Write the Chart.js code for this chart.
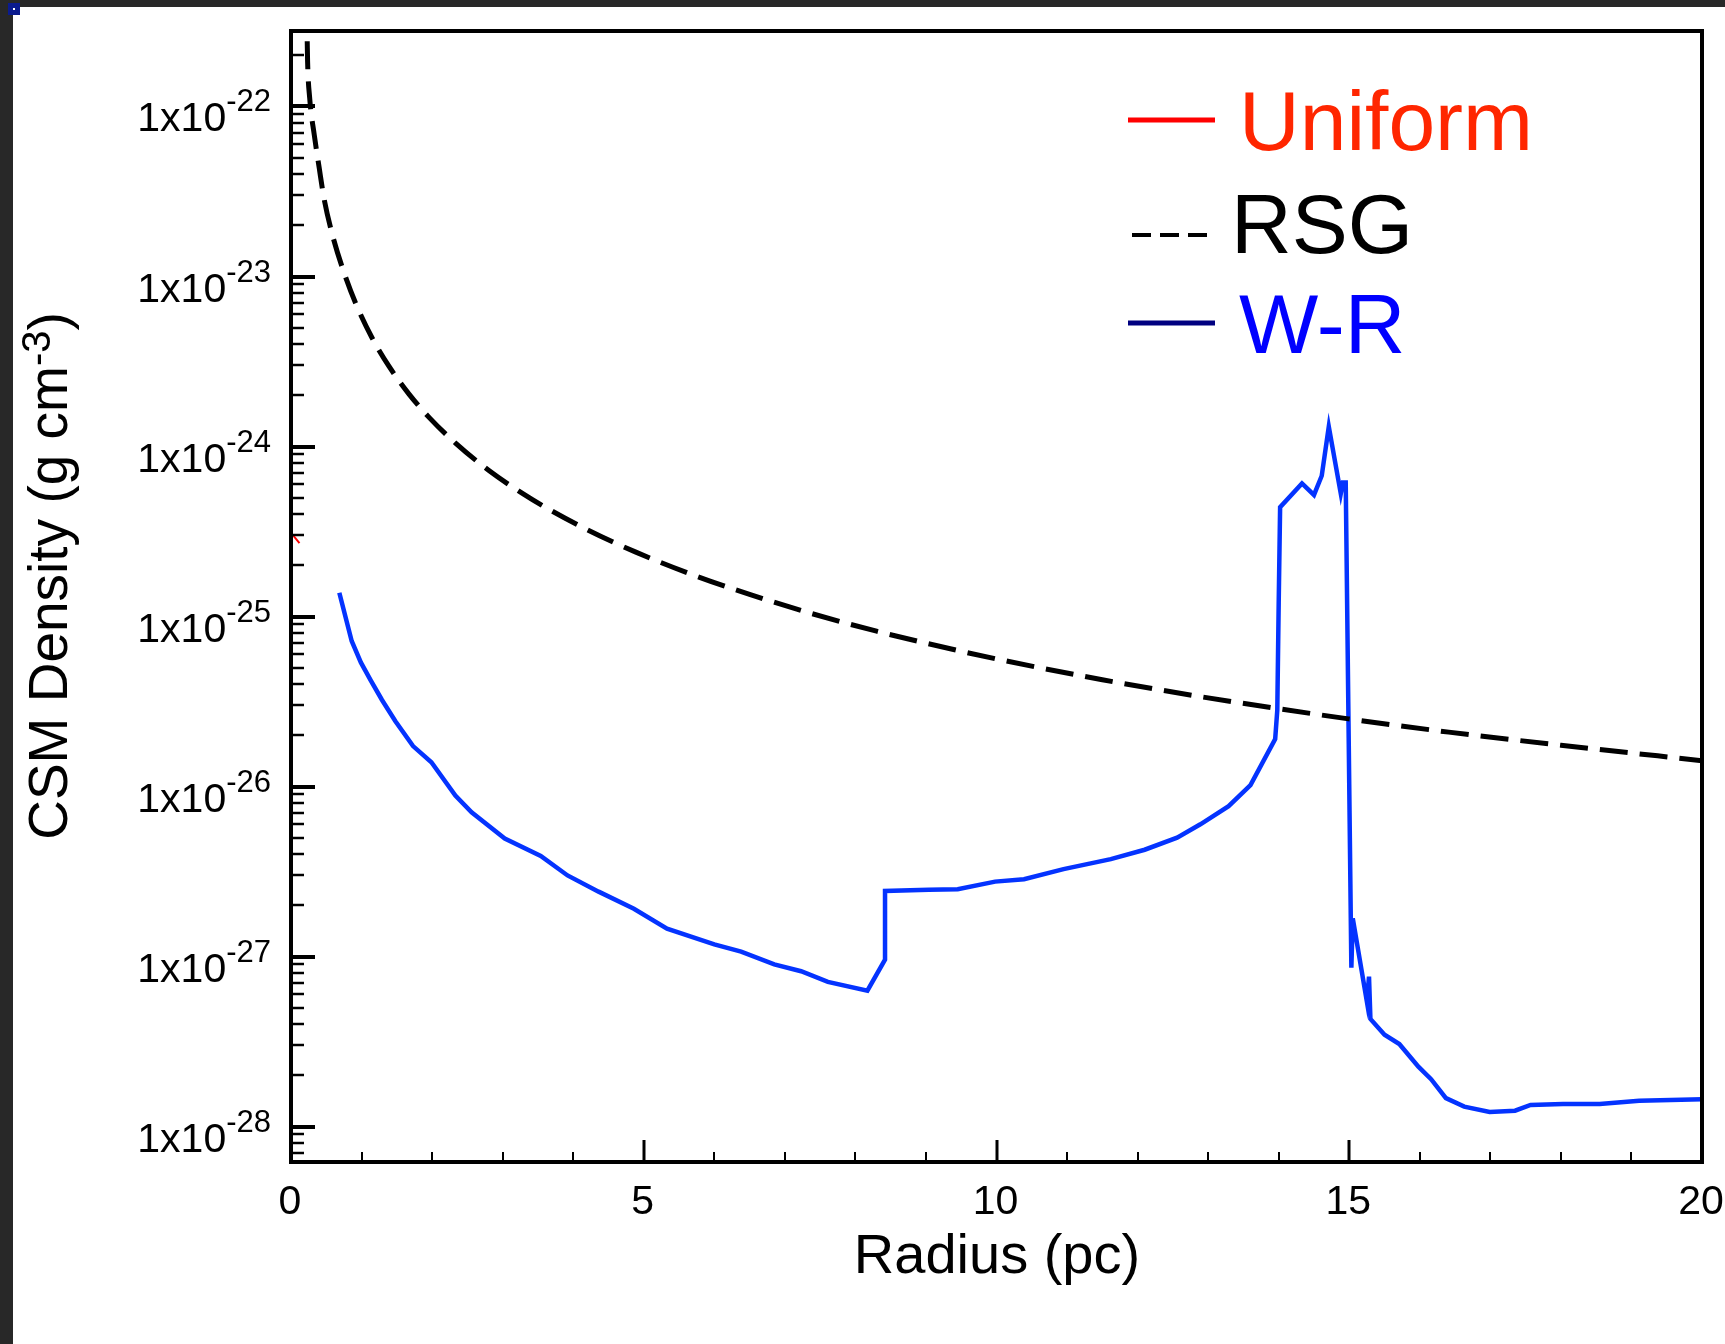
<!DOCTYPE html>
<html>
<head>
<meta charset="utf-8">
<script src="https://cdn.jsdelivr.net/npm/chart.js@4.4.1/dist/chart.umd.min.js"></script>
<style>
  html, body { margin: 0; padding: 0; background: #ffffff; }
  #wrap { position: relative; width: 1725px; height: 1344px; overflow: hidden; }
  canvas { display: block; }
  .strip-top { position: absolute; left: 0; top: 0; width: 1725px; height: 7px; background: #282828; }
  .strip-left { position: absolute; left: 0; top: 0; width: 13px; height: 1344px; background: #282828; }
  .corner { position: absolute; left: 8px; top: 3px; width: 12px; height: 12px; background: #0b1b8e; }
  .corner i { position: absolute; left: 5px; top: 5px; width: 2px; height: 2px; background: #ffffff; }
</style>
</head>
<body>
<div id="wrap">
  <canvas id="chart" width="1725" height="1344"></canvas>
  <div class="strip-top"></div>
  <div class="strip-left"></div>
  <div class="corner"><i></i></div>
</div>
<script>
// ---------------- DATA ----------------
const seriesNames = ['Uniform', 'RSG', 'W-R'];

const uniformRadius  = [0.03, 0.12];
const uniformDensity = [3.0e-25, 2.7e-25];

const rsgRadius  = [0.23, 0.235, 0.265, 0.33, 0.40, 0.47, 0.59, 0.73, 0.92, 1.15, 1.39, 1.67, 1.96, 2.34, 2.81, 3.28, 3.61, 4.2, 4.88, 5.76, 6.5, 7.35, 8.30, 9.36, 10.0, 11.5, 12.91, 14.0, 14.99, 16.41, 18.0, 20.0];
const rsgDensity = [2.42e-22, 1.85e-22, 1.12e-22, 6.8e-23, 4.35e-23, 2.85e-23, 1.74e-23, 1.12e-23, 6.9e-24, 4.35e-24, 2.96e-24, 2.04e-24, 1.48e-24, 1.04e-24, 7.2e-25, 5.3e-25, 4.38e-25, 3.24e-25, 2.4e-25, 1.72e-25, 1.35e-25, 1.05e-25, 8.2e-26, 6.44e-26, 5.63e-26, 4.25e-26, 3.37e-26, 2.87e-26, 2.5e-26, 2.09e-26, 1.75e-26, 1.42e-26];

const wrRadius  = [0.685, 0.86, 0.99, 1.13, 1.29, 1.48, 1.73, 1.99, 2.33, 2.56, 3.03, 3.54, 3.92, 4.36, 4.86, 5.33, 6.00, 6.38, 6.85, 7.23, 7.61, 8.17, 8.42, 8.42, 9.04, 9.45, 9.98, 10.39, 10.95, 11.62, 12.10, 12.56, 12.89, 13.29, 13.60, 13.95, 13.98, 14.00, 14.02, 14.33, 14.50, 14.61, 14.71, 14.88, 14.91, 14.95, 15.03, 15.05, 15.25, 15.28, 15.30, 15.50, 15.71, 15.98, 16.16, 16.37, 16.63, 16.99, 17.35, 17.57, 18.03, 18.55, 19.11, 20.0];
const wrDensity = [1.38e-25, 7.18e-26, 5.37e-26, 4.21e-26, 3.23e-26, 2.42e-26, 1.73e-26, 1.39e-26, 8.86e-27, 7.05e-27, 4.95e-27, 3.91e-27, 3.0e-27, 2.41e-27, 1.91e-27, 1.46e-27, 1.18e-27, 1.07e-27, 9.0e-28, 8.2e-28, 7.1e-28, 6.3e-28, 9.6e-28, 2.43e-27, 2.47e-27, 2.49e-27, 2.76e-27, 2.85e-27, 3.27e-27, 3.74e-27, 4.25e-27, 5.0e-27, 6.0e-27, 7.67e-27, 1.02e-26, 1.9e-26, 2.81e-26, 1.2e-25, 4.4e-25, 6.07e-25, 5.19e-25, 6.73e-25, 1.31e-24, 5.28e-25, 6.14e-25, 6.14e-25, 8.6e-28, 1.68e-27, 5.43e-28, 7.62e-28, 4.3e-28, 3.47e-28, 3.06e-28, 2.25e-28, 1.9e-28, 1.47e-28, 1.31e-28, 1.22e-28, 1.24e-28, 1.34e-28, 1.36e-28, 1.36e-28, 1.42e-28, 1.45e-28];

// axis ranges and tick labels
const xMin = 0, xMax = 20;
const yMin = 6.19e-29, yMax = 2.78e-22;
const xTickValues = [0, 5, 10, 15, 20];
const xTickLabels = ['0', '5', '10', '15', '20'];
const yTickExponents = [-28, -27, -26, -25, -24, -23, -22];
const yTickBase = '1x10';
const xTitle = 'Radius (pc)';
const yTitleMain = 'CSM Density (g cm';
const yTitleSup = '-3';
const yTitleEnd = ')';

// ---------------- drawing ----------------
const FONT = '"Liberation Sans", Arial, Helvetica, sans-serif';
const toXY = (xs, ys) => xs.map((v, i) => ({ x: v, y: ys[i] }));

const decoPlugin = {
  id: 'deco',
  afterDraw(chart) {
    const { ctx, chartArea: a, scales: { x, y } } = chart;
    ctx.save();
    ctx.strokeStyle = '#000';
    ctx.fillStyle = '#000';
    ctx.lineCap = 'butt';

    // y ticks (inward)
    for (let e = -29; e <= -21; e++) {
      for (let m = 1; m <= 9; m++) {
        const v = m * Math.pow(10, e);
        if (v < y.min || v > y.max) continue;
        const py = Math.round(y.getPixelForValue(v));
        const major = (m === 1);
        ctx.lineWidth = major ? 4 : 2.5;
        ctx.beginPath();
        ctx.moveTo(a.left, py);
        ctx.lineTo(a.left + (major ? 24 : 13), py);
        ctx.stroke();
      }
    }
    // x ticks (inward)
    for (let v = xMin; v <= xMax; v += 1) {
      const px = Math.round(x.getPixelForValue(v));
      const major = xTickValues.includes(v);
      ctx.lineWidth = major ? 3 : 2;
      ctx.beginPath();
      ctx.moveTo(px, a.bottom);
      ctx.lineTo(px, a.bottom - (major ? 22 : 10));
      ctx.stroke();
    }

    // frame
    ctx.lineWidth = 4;
    ctx.strokeRect(a.left, a.top, a.right - a.left, a.bottom - a.top);

    // y tick labels with superscript exponent
    ctx.textBaseline = 'alphabetic';
    ctx.textAlign = 'left';
    const labelRight = 271;
    yTickExponents.forEach(e => {
      const py = y.getPixelForValue(Math.pow(10, e));
      const sup = String(e);
      ctx.font = '31px ' + FONT;
      const supW = ctx.measureText(sup).width;
      ctx.font = '41px ' + FONT;
      const baseW = ctx.measureText(yTickBase).width;
      ctx.fillText(yTickBase, labelRight - supW - baseW, py + 25);
      ctx.font = '31px ' + FONT;
      ctx.fillText(sup, labelRight - supW, py + 5);
    });

    // x tick labels
    ctx.font = '41px ' + FONT;
    ctx.textAlign = 'center';
    xTickValues.forEach((v, i) => {
      ctx.fillText(xTickLabels[i], x.getPixelForValue(v) - 1, 1214);
    });

    // x title
    ctx.font = '56px ' + FONT;
    ctx.fillText(xTitle, 997, 1273);

    // y title (rotated, with superscript)
    ctx.save();
    ctx.translate(67, 576);
    ctx.rotate(-Math.PI / 2);
    ctx.textAlign = 'left';
    ctx.font = '55px ' + FONT;
    const w1 = ctx.measureText(yTitleMain).width;
    const w3 = ctx.measureText(yTitleEnd).width;
    ctx.font = '40px ' + FONT;
    const w2 = ctx.measureText(yTitleSup).width;
    let sx = -(w1 + w2 + w3) / 2;
    ctx.font = '55px ' + FONT;
    ctx.fillText(yTitleMain, sx, 0);
    sx += w1;
    ctx.font = '40px ' + FONT;
    ctx.fillText(yTitleSup, sx, -17);
    sx += w2;
    ctx.font = '55px ' + FONT;
    ctx.fillText(yTitleEnd, sx, 0);
    ctx.restore();

    // legend
    const legend = [
      { lineColor: '#ff0000', textColor: '#ff2600', dash: [], lw: 5, x1: 1128, x2: 1215, ly: 120, tx: 1239, ty: 150 },
      { lineColor: '#000000', textColor: '#000000', dash: [19, 9], lw: 4, x1: 1132, x2: 1207, ly: 235, tx: 1231, ty: 253 },
      { lineColor: '#000080', textColor: '#0000ff', dash: [], lw: 5, x1: 1128, x2: 1215, ly: 323, tx: 1239, ty: 353 }
    ];
    ctx.textAlign = 'left';
    ctx.font = '84px ' + FONT;
    legend.forEach((it, i) => {
      ctx.save();
      ctx.strokeStyle = it.lineColor;
      ctx.lineWidth = it.lw;
      ctx.setLineDash(it.dash);
      ctx.beginPath();
      ctx.moveTo(it.x1, it.ly);
      ctx.lineTo(it.x2, it.ly);
      ctx.stroke();
      ctx.restore();
      ctx.fillStyle = it.textColor;
      ctx.fillText(chart.data.datasets[i].label, it.tx, it.ty);
    });

    ctx.restore();
  }
};

new Chart(document.getElementById('chart'), {
  type: 'line',
  data: {
    datasets: [
      { label: seriesNames[0], data: toXY(uniformRadius, uniformDensity), borderColor: '#ff0000', borderWidth: 2, pointRadius: 0, fill: false, tension: 0 },
      { label: seriesNames[1], data: toXY(rsgRadius, rsgDensity), borderColor: '#000000', borderWidth: 5, borderDash: [28, 12], pointRadius: 0, fill: false, cubicInterpolationMode: 'monotone' },
      { label: seriesNames[2], data: toXY(wrRadius, wrDensity), borderColor: '#0433ff', borderWidth: 4.5, pointRadius: 0, fill: false, tension: 0 }
    ]
  },
  options: {
    responsive: false,
    animation: false,
    devicePixelRatio: 1,
    events: [],
    layout: { padding: { top: 31, right: 23, left: 0, bottom: 0 } },
    plugins: { legend: { display: false }, tooltip: { enabled: false }, title: { display: false } },
    scales: {
      x: {
        type: 'linear', min: xMin, max: xMax,
        grid: { display: false, drawTicks: false },
        border: { display: false },
        ticks: { display: false },
        afterFit: s => { s.height = 1344 - 1162; }
      },
      y: {
        type: 'logarithmic', min: yMin, max: yMax,
        grid: { display: false, drawTicks: false },
        border: { display: false },
        ticks: { display: false },
        afterFit: s => { s.width = 291; }
      }
    }
  },
  plugins: [decoPlugin]
});
</script>
</body>
</html>
